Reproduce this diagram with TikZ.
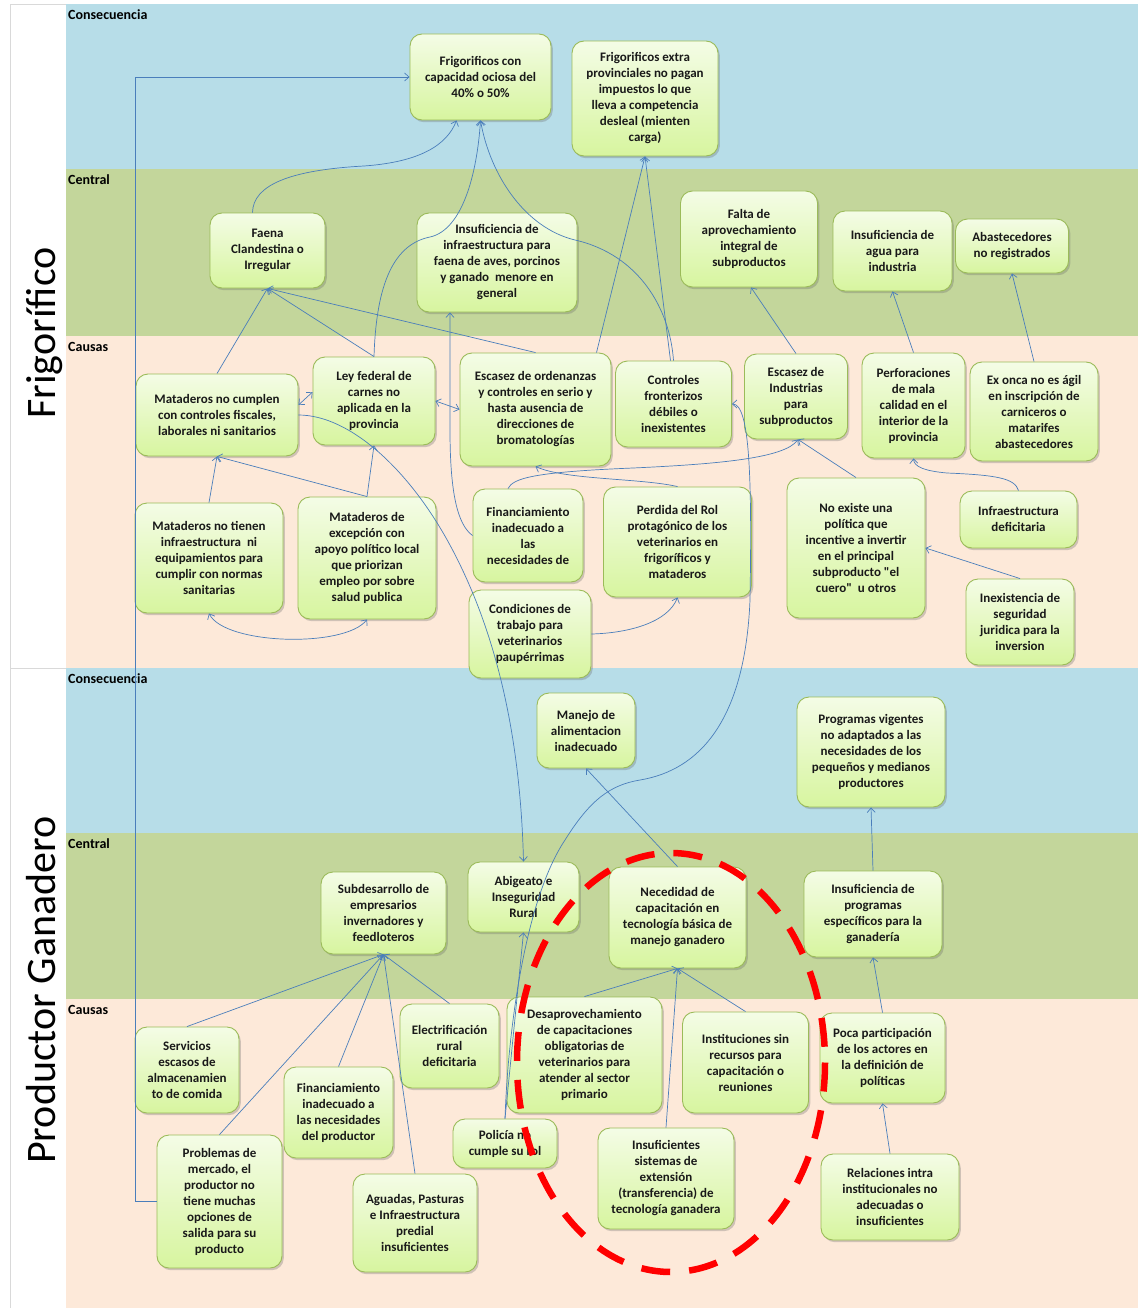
\documentclass[tikz,border=0pt]{standalone}
\usepackage{fontspec}
\setmainfont{Carlito}
\usetikzlibrary{arrows.meta,shadows,calc}
\definecolor{consc}{HTML}{B7DDE8}
\definecolor{centc}{HTML}{C3D69B}
\definecolor{causc}{HTML}{FDE9D9}
\definecolor{nborder}{HTML}{9BBB59}
\definecolor{ntop}{HTML}{F4FCE6}
\definecolor{nbot}{HTML}{D7F59F}
\definecolor{connc}{HTML}{4A7EBB}
\definecolor{gridc}{HTML}{D9D9D9}
\definecolor{redc}{HTML}{FF0000}
\newcommand\strq{\XeTeXglyph\XeTeXcharglyph"22\relax}
\begin{document}
\begin{tikzpicture}[x=1pt,y=-1pt,
  box/.style={draw=nborder, line width=0.9pt, rounded corners=12pt,
    top color=ntop, bottom color=nbot, align=center,
    font=\bfseries\fontsize{13}{16}\selectfont, text=black!90, inner sep=2pt,
    drop shadow={shadow xshift=1.8pt,shadow yshift=-2.2pt,opacity=0.3,fill=black!60}},
  wh/.style 2 args={minimum width=#1pt, minimum height=#2pt},
  link/.style={draw=connc, line width=0.7pt, -{Straight Barb[length=4.5pt,width=8pt]}},
  link2/.style={draw=connc, line width=0.7pt, {Straight Barb[length=4.5pt,width=8pt]}-{Straight Barb[length=4.5pt,width=8pt]}},
  bandlabel/.style={anchor=base west, inner sep=0pt, font=\bfseries\fontsize{14}{16}\selectfont},
  sidelabel/.style={rotate=90, anchor=base, inner sep=0pt, font=\fontsize{42}{50}\selectfont}
]
\useasboundingbox (0,0) rectangle (1138,1308);
\fill[white] (0,0) rectangle (1138,1308);
% bands
\fill[consc] (66,4) rectangle (1138,169);
\fill[centc] (66,169) rectangle (1138,336);
\fill[causc] (66,336) rectangle (1138,668);
\fill[consc] (66,668) rectangle (1138,833);
\fill[centc] (66,833) rectangle (1138,999);
\fill[causc] (66,999) rectangle (1138,1308);
\draw[gridc, line width=0.8pt] (10,1308) -- (10,4) -- (66,4);
\draw[gridc, line width=0.8pt] (10,668) -- (66,668);
% band labels
\node[bandlabel] (L1) at (68,19.5) {Consecuencia};
\node[bandlabel] (L2) at (68,185) {Central};
\node[bandlabel] (L3) at (68,351) {Causas};
\node[bandlabel] (L4) at (68,683.5) {Consecuencia};
\node[bandlabel] (L5) at (68,848.5) {Central};
\node[bandlabel] (L6) at (68,1014.5) {Causas};
\node[sidelabel] (S1) at (55,333) {Frigorífico};
\node[sidelabel] (S2) at (55,990) {Productor Ganadero};

% Frigorifico nodes
\node[box, wh={141}{86}] (F1) at (480.5,77) {Frigorificos con\\capacidad ociosa del\\40\% o 50\%};
\node[box, wh={146}{115}] (F2) at (645,98.5) {Frigorificos extra\\provinciales no pagan\\impuestos lo que\\lleva a competencia\\desleal (mienten\\carga)};
\node[box, wh={115}{75}] (C1) at (267.5,250.5) {Faena\\Clandestina o\\Irregular};
\node[box, wh={160}{99}] (C2) at (497,262.5) {Insuficiencia de\\infraestructura para\\faena de aves, porcinos\\y ganado\ \ menore en\\general};
\node[box, wh={137}{96}] (C3) at (749,239) {Falta de\\aprovechamiento\\integral de\\subproductos};
\node[box, wh={119}{80}] (C4) at (892.5,251) {Insuficiencia de\\agua para\\industria};
\node[box, wh={113}{54}] (C5) at (1012,246) {Abastecedores\\no registrados};
\node[box, wh={162}{82}] (K1) at (217,415) {Mataderos no cumplen\\con controles fiscales,\\laborales ni sanitarios};
\node[box, wh={122}{88}] (K2) at (374,401) {Ley federal de\\carnes no\\aplicada en la\\provincia};
\node[box, wh={151}{113}] (K3) at (535.5,409.5) {Escasez de ordenanzas\\y controles en serio y\\hasta ausencia de\\direcciones de\\bromatologías};
\node[box, wh={116}{86}] (K4) at (673.5,404) {Controles\\fronterizos\\débiles o\\inexistentes};
\node[box, wh={103}{85}] (K5) at (796,396.5) {Escasez de\\Industrias\\para\\subproductos};
\node[box, wh={103}{105}] (K6) at (913.5,405.5) {Perforaciones\\de mala\\calidad en el\\interior de la\\provincia};
\node[box, wh={128}{99}] (K7) at (1034,411.5) {Ex onca no es ágil\\en inscripción de\\carniceros o\\matarifes\\abastecedores};
\node[box, wh={148}{110}] (K8) at (209,558) {Mataderos no tienen\\infraestructura\ \ ni\\equipamientos para\\cumplir con normas\\sanitarias};
\node[box, wh={138}{122}] (K9) at (367,558) {Mataderos de\\excepción con\\apoyo político local\\que priorizan\\empleo por sobre\\salud publica};
\node[box, wh={110}{93}] (K10) at (528,535.5) {Financiamiento\\inadecuado a\\las\\necesidades de};
\node[box, wh={148}{110}] (K11) at (677.5,542) {Perdida del Rol\\protagónico de los\\veterinarios en\\frigoríficos y\\mataderos};
\node[box, wh={138}{140}] (K12) at (856,548) {No existe una\\política que\\incentive a invertir\\en el principal\\subproducto \strq el\\cuero\strq\ \ u otros};
\node[box, wh={117}{57}] (K13) at (1018.5,519.5) {Infraestructura\\deficitaria};
\node[box, wh={108}{86}] (K14) at (1020,622) {Inexistencia de\\seguridad\\juridica para la\\inversion};
\node[box, wh={122}{88}] (K15) at (530,634) {Condiciones de\\trabajo para\\veterinarios\\paupérrimas};

% Productor nodes
\node[box, wh={98}{75}] (P1) at (586,730.5) {Manejo de\\alimentacion\\inadecuado};
\node[box, wh={148}{110}] (P2) at (871,752) {Programas vigentes\\no adaptados a las\\necesidades de los\\pequeños y medianos\\productores};
\node[box, wh={125}{82}] (G1) at (383.5,913) {Subdesarrollo de\\empresarios\\invernadores y\\feedloteros};
\node[box, wh={111}{70}] (G2) at (523.5,897) {Abigeato e\\Inseguridad\\Rural};
\node[box, wh={137}{101}] (G3) at (677.5,917.5) {Necedidad de\\capacitación en\\tecnología básica de\\manejo ganadero};
\node[box, wh={138}{86}] (G4) at (873,914) {Insuficiencia de\\programas\\específicos para la\\ganadería};
\node[box, wh={104}{86}] (G5) at (187,1070) {Servicios\\escasos de\\almacenamien\\to de comida};
\node[box, wh={99}{84}] (G6) at (449.5,1046) {Electrificación\\rural\\deficitaria};
\node[box, wh={155}{116}] (G7) at (584.5,1055) {Desaprovechamiento\\de capacitaciones\\obligatorias de\\veterinarios para\\atender al sector\\primario};
\node[box, wh={126}{101}] (G8) at (745.5,1062.5) {Instituciones sin\\recursos para\\capacitación o\\reuniones};
\node[box, wh={125}{90}] (G9) at (882.5,1058) {Poca participación\\de los actores en\\la definición de\\políticas};
\node[box, wh={109}{91}] (G10) at (338.5,1112.5) {Financiamiento\\inadecuado a\\las necesidades\\del productor};
\node[box, wh={104}{49}] (G11) at (505,1143.5) {Policía no\\cumple su rol};
\node[box, wh={125}{133}] (G12) at (219.5,1201.5) {Problemas de\\mercado, el\\productor no\\tiene muchas\\opciones de\\salida para su\\producto};
\node[box, wh={124}{98}] (G13) at (415,1223) {Aguadas, Pasturas\\e Infraestructura\\predial\\insuficientes};
\node[box, wh={136}{101}] (G14) at (666,1178.5) {Insuficientes\\sistemas de\\extensión\\(transferencia) de\\tecnología ganadera};
\node[box, wh={138}{86}] (G15) at (890,1197) {Relaciones intra\\institucionales no\\adecuadas o\\insuficientes};

% Frigorifico connectors
\draw[link] (K1.north) -- (C1.south);
\draw[link] (K2.north) -- (C1.south);
\draw[link] (K3.north) -- (C1.south);
\draw[link] ([xshift=-15pt]C1.north) .. controls (253,185) and (290,170) .. (364,166) .. controls (420,162) and (447,145) .. ([xshift=-24pt]F1.south);
\draw[link] (K2.north) .. controls (376,292) and (390,245) .. (430,237) .. controls (462,230) and (477,175) .. (F1.south);
\draw[link] (K4.north) .. controls (670,310) and (640,255) .. (575,240) .. controls (525,228) and (490,175) .. (F1.south);
\draw[link] ([xshift=61pt]K3.north) -- (F2.south);
\draw[link] ([xshift=-3pt]K4.north) -- (F2.south);
\draw[link] (K10.west) .. controls (458,525) and (450,495) .. (450,430) -- ([xshift=-47pt]C2.south);
\draw[link2] ([yshift=10pt]K1.east) -- ([yshift=9pt]K2.west);
\draw[link2] (K2.east) -- (K3.west);
\draw[link] (K8.north) -- (K1.south);
\draw[link] (K9.north) -- (K1.south);
\draw[link] (K9.north) -- (K2.south);
\draw[link2] (K8.south) .. controls (225,645) and (345,648) .. (K9.south);
\draw[link] (K1.east) .. controls (350,415) and (410,470) .. (451,547) .. controls (490,620) and (520,720) .. (G2.north);
\draw[link] ([xshift=-20pt]K10.north) .. controls (513,478) and (535,472) .. (633,468) .. controls (720,464) and (785,458) .. ([xshift=2pt]K5.south);
\draw[link] (K11.north) .. controls (640,478) and (565,480) .. (K3.south);
\draw[link] (K12.north) -- ([xshift=2pt]K5.south);
\draw[link] (K5.north) -- ([xshift=2pt]C3.south);
\draw[link] (K6.north) -- (C4.south);
\draw[link] (K7.north) -- (C5.south);
\draw[link] (K13.north) .. controls (1015,478) and (995,475) .. (947,473) .. controls (925,471) and (914,467) .. (K6.south);
\draw[link] (K14.north) -- (K12.east);
\draw[link] (K15.east) .. controls (630,633) and (668,622) .. (K11.south);
% long connectors
\draw[link] (G11.north) .. controls (508,1030) and (525,900) .. (565,840) .. controls (590,800) and (610,785) .. (640,780) .. controls (700,770) and (745,720) .. (750,600) .. controls (752,480) and (750,404) .. (K4.east);
\draw[link] (G11.north) -- (G2.south);
\draw[link] (G12.west) -- ++(-21,0) |- (F1.west);
% Productor connectors
\draw[link] (G3.north) -- (P1.south);
\draw[link] (G4.north) -- (P2.south);
\draw[link] (G9.north) -- (G4.south);
\draw[link] (G15.north) -- (G9.south);
\draw[link] (G7.north) -- (G3.south);
\draw[link] (G14.north) -- (G3.south);
\draw[link] (G8.north) -- (G3.south);
\draw[link] (G5.north) -- (G1.south);
\draw[link] (G12.north) -- (G1.south);
\draw[link] (G10.north) -- (G1.south);
\draw[link] (G13.north) -- (G1.south);
\draw[link] (G6.north) -- (G1.south);
% red dashed ellipse
\draw[redc, line width=6.5pt, dash pattern=on 29pt off 19pt] (671,1062.5) ellipse [x radius=154, y radius=209.5];
\end{tikzpicture}
\end{document}
